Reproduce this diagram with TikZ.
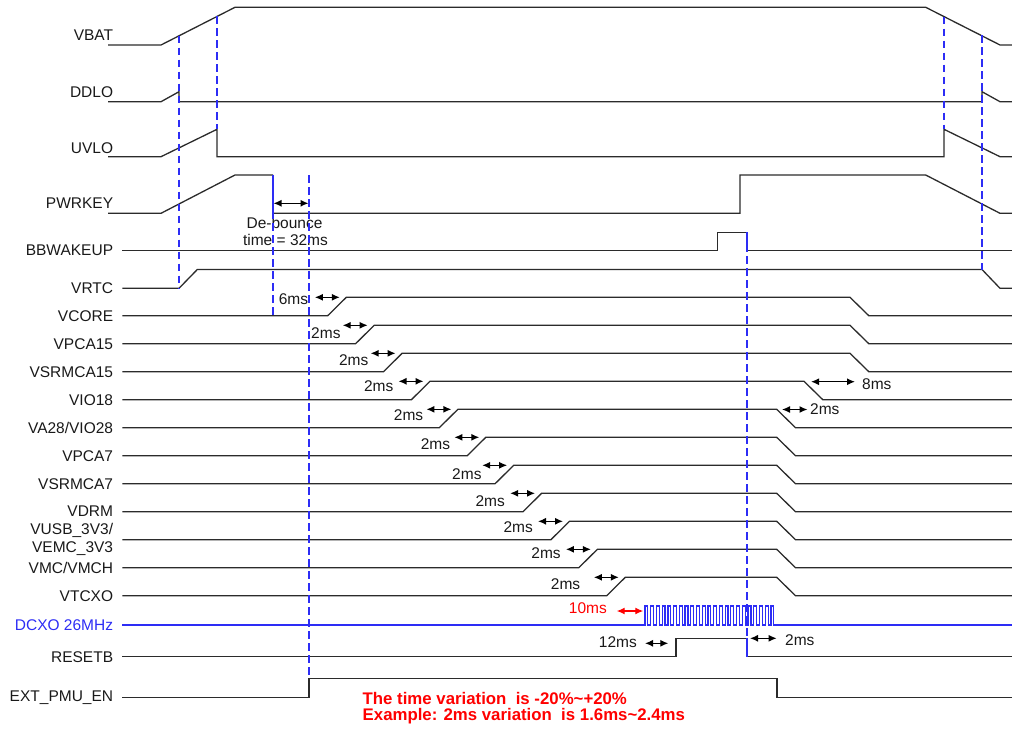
\documentclass[tikz,border=0pt]{standalone}
\usepackage{fontspec}
\setmainfont{Liberation Sans}
\usetikzlibrary{arrows.meta}
\definecolor{sigc}{HTML}{2B2B2B}
\definecolor{dblue}{RGB}{45,45,245}
\definecolor{dred}{RGB}{255,0,0}
\tikzset{
  sig/.style={draw=sigc, line width=1.3pt},
  vline/.style={draw=dblue, line width=1.6pt, dash pattern=on 7.5pt off 4.5pt},
  lbl/.style={anchor=east, inner sep=0pt, text=black!90, font=\fontsize{15.5}{18.3}\selectfont},
  ann/.style={inner sep=0pt, text=black!90, font=\fontsize{15.5}{18.3}\selectfont},
  dim/.style={draw=black, line width=1.3pt, {Latex[length=8pt,width=7pt]}-{Latex[length=8pt,width=7pt]}},
}
\begin{document}
\begin{tikzpicture}[x=1pt,y=-1pt]
\useasboundingbox (0,0) rectangle (1012,731);

% ---------- labels ----------
\node[lbl] (lVBAT) at (113.3,35.5) {VBAT};
\node[lbl] (lDDLO) at (113.3,91.7) {DDLO};
\node[lbl] (lUVLO) at (113.3,148.2) {UVLO};
\node[lbl] (lPWRKEY) at (113.3,203.3) {PWRKEY};
\node[lbl] (lBBW) at (113.3,250.7) {BBWAKEUP};
\node[lbl] (lVRTC) at (113.3,288) {VRTC};
\node[lbl] (lVCORE) at (113.3,316.2) {VCORE};
\node[lbl] (lVPCA15) at (113.3,344.2) {VPCA15};
\node[lbl] (lVSRMCA15) at (113.3,372.2) {VSRMCA15};
\node[lbl] (lVIO18) at (113.3,400.5) {VIO18};
\node[lbl] (lVA28) at (113.3,428.2) {VA28/VIO28};
\node[lbl] (lVPCA7) at (113.3,456.2) {VPCA7};
\node[lbl] (lVSRMCA7) at (113.3,484) {VSRMCA7};
\node[lbl] (lVDRM) at (113.3,511.5) {VDRM};
\node[lbl, align=right] (lVUSB) at (113.3,539.5) {VUSB\_3V3/\\VEMC\_3V3};
\node[lbl] (lVMC) at (113.3,567.8) {VMC/VMCH};
\node[lbl] (lVTCXO) at (113.3,595.7) {VTCXO};
\node[lbl, text=dblue] (lDCXO) at (113.3,625) {DCXO 26MHz};
\node[lbl] (lRESETB) at (113.3,656.7) {RESETB};
\node[lbl] (lEXT) at (113.3,697.5) {EXT\_PMU\_EN};

% ---------- top waveforms ----------
\draw[sig] (108,45) -- (161,45) -- (235,7.3) -- (925.7,7.3) -- (1000,45) -- (1012,45);
\draw[sig] (108,101.7) -- (161,101.7) -- (179,91.7) -- (179,101.7) -- (982,101.7) -- (982,91.7) -- (1000,101.7) -- (1012,101.7);
\draw[sig] (108,156.7) -- (161,156.7) -- (217,129.3) -- (217,156.7) -- (944,156.7) -- (944,129.3) -- (1000,156.7) -- (1012,156.7);
\draw[sig] (108,213.3) -- (161,213.3) -- (235,175) -- (273,175);
\draw[sig] (273,213.3) -- (740,213.3) -- (740,175) -- (925.7,175) -- (1000,213.3) -- (1012,213.3);
\draw[draw=dblue, line width=1.4pt] (273,175) -- (273,213.3);
\draw[sig] (122.3,250.7) -- (717.3,250.7) -- (717.3,232.3) -- (747,232.3);
\draw[draw=dblue, line width=1.4pt] (747,232.3) -- (747,250.7);
\draw[sig] (747,250.7) -- (1012,250.7);
\draw[sig] (122.3,288.3) -- (179,288.3) -- (197.3,269.5) -- (982,269.5) -- (1000,288.3) -- (1012,288.3);

% ---------- regulator rows ----------
\foreach \k/\fx/\lbl/\dx/\dy in {0/850/6ms/6.5/2, 1/850/2ms/2/7.5, 2/850/2ms/2/7.3,
  3/804/2ms/5/4.5, 4/776.7/2ms/3/6, 5/776.7/2ms/4/6.5, 6/776.7/2ms/0.5/8.5,
  7/776.7/2ms/5/7.5, 8/776.7/2ms/5/6, 9/776.7/2ms/5/3.5, 10/776.7/2ms/13.4/6.7}{
  \pgfmathsetmacro\yl{315.7+28*\k}
  \pgfmathsetmacro\yh{\yl-18.4}
  \pgfmathsetmacro\xs{327.7+27.9*\k}
  \pgfmathsetmacro\xt{\xs+18.6}
  \draw[sig] (122.3,\yl) -- (\xs,\yl) -- (\xt,\yh) -- (\fx,\yh) -- (\fx+18.8,\yl) -- (1012,\yl);
  \coordinate (as\k) at (\xt-31.5,\yh);
  \coordinate (ae\k) at (\xt-6.5,\yh);
  \draw[dim] (as\k) -- (ae\k);
  \node[ann, anchor=east] (t\k) at (\xt-31.5-\dx,\yh+\dy) {\lbl};
}

% ---------- DCXO ----------
\draw[draw=dblue, line width=1.2pt] (122.3,625) -- (645,625)
  \foreach \i in {1,...,23}{ -- ++(0,-19) -- ++(2.863,0) -- ++(0,19) -- ++(2.863,0) } -- (1012,625);
\coordinate (r1) at (616.7,611);
\coordinate (r2) at (643.3,611);
\draw[dim, draw=dred] (r1) -- (r2);
\node[ann, anchor=east, text=dred] (t10ms) at (607,608.3) {10ms};

% ---------- RESETB ----------
\draw[sig] (122.3,656.7) -- (676,656.7) -- (676,638.3) -- (747,638.3);
\draw[draw=dblue, line width=1.4pt] (747,638.3) -- (747,656.7);
\draw[sig] (747,656.7) -- (1012,656.7);
\coordinate (b1) at (645,643.3);
\coordinate (b2) at (668.3,643.3);
\draw[dim] (b1) -- (b2);
\node[ann, anchor=east] (t12ms) at (637,642.3) {12ms};
\coordinate (c1) at (750,638.3);
\coordinate (c2) at (776.7,638.3);
\draw[dim] (c1) -- (c2);
\node[ann, anchor=west] (t2msr) at (785,640) {2ms};

% ---------- EXT_PMU_EN ----------
\draw[sig] (122.3,697.5) -- (309,697.5) -- (309,678.7) -- (777,678.7) -- (777,697.5) -- (1012,697.5);

% ---------- power-off annotations ----------
\coordinate (d1) at (811,381.7);
\coordinate (d2) at (855,381.7);
\draw[dim] (d1) -- (d2);
\node[ann, anchor=west] (t8ms) at (862,384.3) {8ms};
\coordinate (e1) at (782,409.5);
\coordinate (e2) at (807.5,409.5);
\draw[dim] (e1) -- (e2);
\node[ann, anchor=west] (t2msf) at (810,408.8) {2ms};

% ---------- debounce ----------
\coordinate (f1) at (273.5,203.3);
\coordinate (f2) at (308.5,203.3);
\draw[dim] (f1) -- (f2);
\node[ann] (tdeb1) at (284.5,222.7) {De-bounce};
\node[ann] (tdeb2) at (285.5,240) {time = 32ms};

% ---------- blue dashed markers ----------
\draw[vline] (179,35.5) -- (179,288.3);
\draw[vline] (217,16.4) -- (217,129.3);
\draw[vline] (273,175) -- (273,316);
\draw[vline] (309,175) -- (309,678.7);
\draw[vline] (747,232.3) -- (747,656.7);
\draw[vline] (944,16.7) -- (944,129.3);
\draw[vline] (982,35) -- (982,269.5);

% ---------- note ----------
\node[anchor=west, inner sep=0pt, text=dred, font=\fontsize{16.8}{18.3}\selectfont\bfseries] (note1) at (362.5,698.3) {The time variation\ \ is -20\%\textasciitilde+20\%};
\node[anchor=west, inner sep=0pt, text=dred, font=\fontsize{16.8}{18.3}\selectfont\bfseries] (note2) at (362.5,716.5) {Example: 2ms variation\ \ is 1.6ms\textasciitilde2.4ms};
\end{tikzpicture}
\end{document}
